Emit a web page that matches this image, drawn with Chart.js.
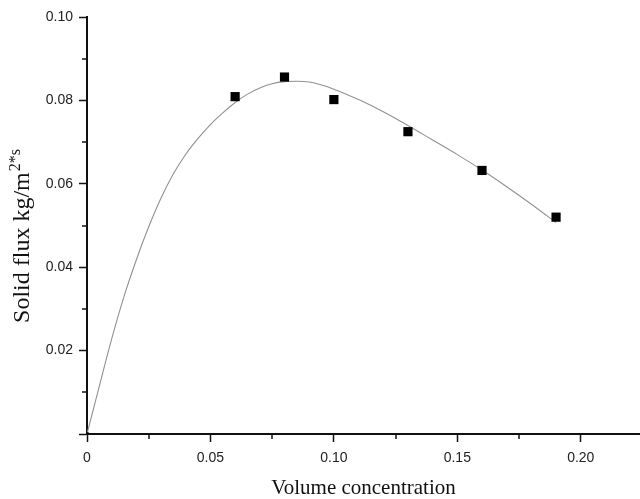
<!DOCTYPE html>
<html>
<head>
<meta charset="utf-8">
<script src="https://cdn.jsdelivr.net/npm/chart.js@4/dist/chart.umd.min.js"></script>
<style>
  html, body { margin: 0; padding: 0; background: #fff; }
  #wrap { width: 640px; height: 499px; }
</style>
</head>
<body>
<div id="wrap"><canvas id="chart"></canvas></div>
<script>
  // measured points (volume concentration, solid flux)
  let measX = [0, 0.06, 0.08, 0.10, 0.13, 0.16, 0.19];
  let measY = [0, 0.0809, 0.0856, 0.0802, 0.0725, 0.0632, 0.0520];

  // fitted curve
  let fitX = [0, 0.005, 0.01, 0.015, 0.02, 0.025, 0.03, 0.035, 0.04, 0.045, 0.05, 0.055, 0.06,
              0.065, 0.07, 0.075, 0.08, 0.085, 0.09, 0.095, 0.10, 0.11, 0.12, 0.13, 0.14,
              0.15, 0.16, 0.17, 0.18, 0.19];
  let fitY = [0, 0.0115, 0.0228, 0.0330, 0.0418, 0.0497, 0.0566, 0.0624, 0.0671, 0.0709, 0.0742,
              0.0770, 0.0795, 0.0815, 0.0830, 0.0840, 0.0845, 0.0846, 0.0844, 0.0837, 0.0827,
              0.0802, 0.0773, 0.0740, 0.0705, 0.0670, 0.0633, 0.0593, 0.0551, 0.0507];

  let xTicks = [0, 0.05, 0.10, 0.15, 0.20];
  let xTickLabels = ["0", "0.05", "0.10", "0.15", "0.20"];
  let yTicks = [0, 0.02, 0.04, 0.06, 0.08, 0.10];
  let yTickLabels = ["", "0.02", "0.04", "0.06", "0.08", "0.10"];
  let xMinor = [0.025, 0.075, 0.125, 0.175];
  let yMinor = [0.01, 0.03, 0.05, 0.07, 0.09];

  let xTitle = "Volume concentration";
  let yTitle = "Solid flux kg/m";
  let yTitleSup = "2*s";

  function pairs(xs, ys) {
    return xs.map((x, i) => ({ x: x, y: ys[i] }));
  }

  function labelFor(ticks, labels) {
    return value => {
      let i = ticks.findIndex(t => Math.abs(t - value) < 1e-9);
      return i >= 0 ? labels[i] : "";
    };
  }

  // minor ticks + axis titles
  let extras = {
    id: "extras",
    afterDraw(chart) {
      let ctx = chart.ctx;
      let xs = chart.scales.x;
      let ys = chart.scales.y;
      let area = chart.chartArea;
      ctx.save();
      ctx.strokeStyle = "#111";
      ctx.lineWidth = 1.5;
      yMinor.forEach(v => {
        let py = Math.round(ys.getPixelForValue(v));
        ctx.beginPath();
        ctx.moveTo(area.left, py);
        ctx.lineTo(area.left - 5, py);
        ctx.stroke();
      });
      xMinor.forEach(v => {
        let px = Math.round(xs.getPixelForValue(v));
        ctx.beginPath();
        ctx.moveTo(px, area.bottom);
        ctx.lineTo(px, area.bottom + 5);
        ctx.stroke();
      });

      let serif = "'Liberation Serif', 'Times New Roman', serif";
      ctx.fillStyle = "#111";
      ctx.font = "21px " + serif;
      ctx.textAlign = "center";
      ctx.textBaseline = "alphabetic";
      ctx.fillText(xTitle, (area.left + area.right) / 2, 494);

      // y title with superscript, rotated
      ctx.font = "24px " + serif;
      let w1 = ctx.measureText(yTitle).width;
      ctx.font = "16px " + serif;
      let w2 = ctx.measureText(yTitleSup).width;
      let total = w1 + w2 + 1;
      ctx.translate(29, 236);
      ctx.rotate(-Math.PI / 2);
      ctx.textAlign = "left";
      ctx.font = "24px " + serif;
      ctx.fillText(yTitle, -total / 2, 0);
      ctx.font = "16px " + serif;
      ctx.fillText(yTitleSup, -total / 2 + w1 + 1, -9);
      ctx.restore();
    },
  };

  let tickFont = { family: "'Liberation Sans', Arial, sans-serif", size: 14 };

  new Chart(document.getElementById("chart"), {
    data: {
      datasets: [
        {
          type: "scatter",
          data: pairs(measX, measY),
          backgroundColor: "#000",
          borderColor: "#000",
          borderWidth: 0,
          pointStyle: "rect",
          pointRadius: ctx => (ctx.dataIndex === 0 ? 2.5 : 6.5),
          order: 1,
        },
        {
          type: "line",
          data: pairs(fitX, fitY),
          borderColor: "#919191",
          borderWidth: 1.1,
          pointRadius: 0,
          cubicInterpolationMode: "monotone",
          fill: false,
          order: 2,
        },
      ],
    },
    options: {
      responsive: true,
      maintainAspectRatio: false,
      animation: false,
      layout: { autoPadding: false, padding: { top: 17, left: 0, right: 0, bottom: 0 } },
      plugins: {
        legend: { display: false },
        tooltip: { enabled: false },
      },
      scales: {
        x: {
          type: "linear",
          min: 0,
          max: 0.224,
          afterFit: scale => { scale.height = 65; },
          border: { display: true, color: "#111", width: 2 },
          grid: { drawOnChartArea: false, tickLength: 8, tickColor: "#111", tickWidth: 1.5 },
          ticks: {
            stepSize: 0.05,
            includeBounds: false,
            maxRotation: 0,
            color: "#222",
            font: tickFont,
            padding: 8,
            callback: labelFor(xTicks, xTickLabels),
          },
        },
        y: {
          type: "linear",
          min: 0,
          max: 0.10,
          afterFit: scale => { scale.width = 87; },
          border: { display: true, color: "#111", width: 2 },
          grid: { drawOnChartArea: false, tickLength: 8, tickColor: "#111", tickWidth: 1.5 },
          ticks: {
            stepSize: 0.02,
            includeBounds: false,
            color: "#222",
            font: tickFont,
            padding: 6,
            callback: labelFor(yTicks, yTickLabels),
          },
        },
      },
    },
    plugins: [extras],
  });
</script>
</body>
</html>
